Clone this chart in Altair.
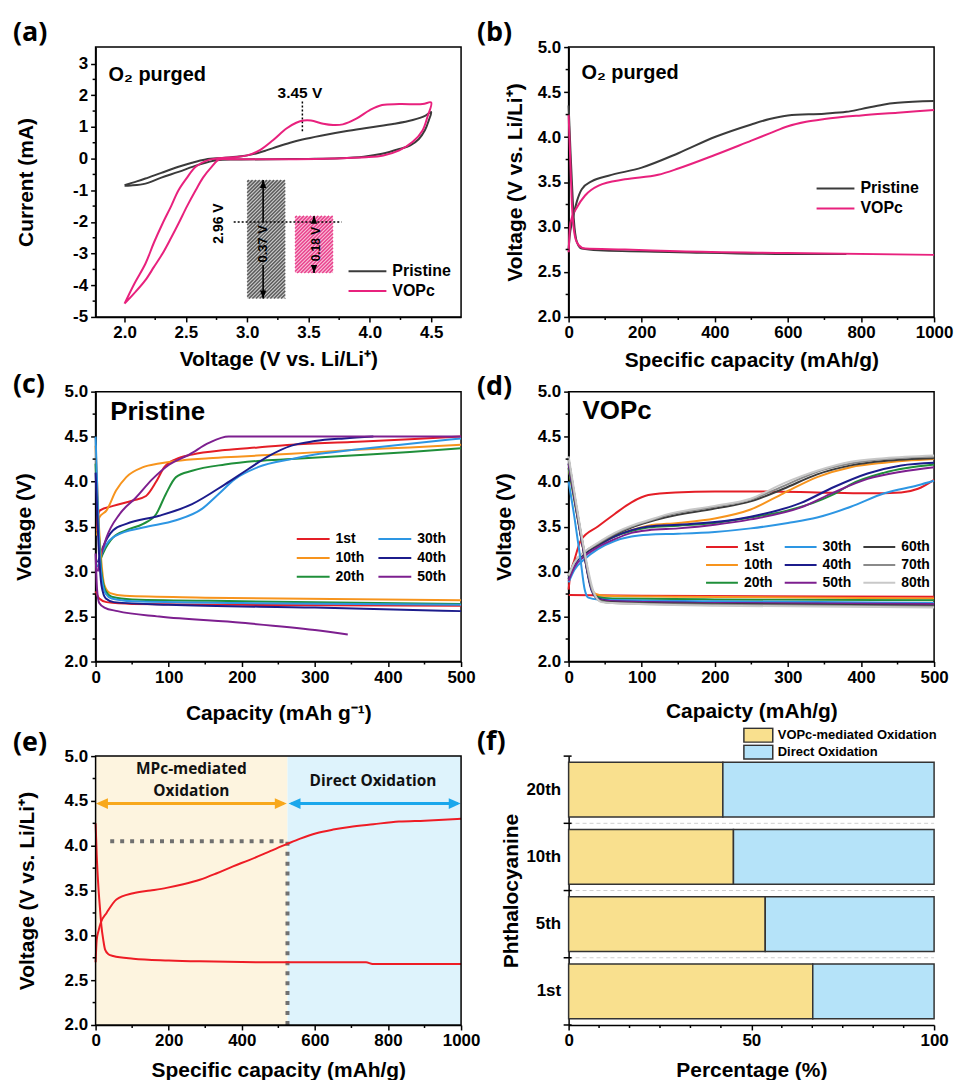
import altair as alt
import pandas as pd

FONT = "Liberation Sans"
PFONT = "Open Sans"

W, H = 367, 271
TOP3 = 20
H3 = 270 + TOP3

GRAY = "#3b3b3b"
PINK = "#e8217d"

# ---------------- (a) cyclic voltammetry (voltage V, current mA) in scan order ----------------
cv_pristine = [(2.00, -0.84), (2.10, -0.72), (2.17, -0.63), (2.30, -0.45), (2.44, -0.26), (2.55, -0.13),
               (2.66, -0.03), (2.80, 0.02), (2.95, 0.07), (3.05, 0.14), (3.15, 0.25), (3.25, 0.38),
               (3.35, 0.50), (3.45, 0.60), (3.60, 0.72), (3.80, 0.86), (4.00, 0.98), (4.20, 1.10),
               (4.35, 1.22), (4.45, 1.35), (4.50, 1.47), (4.48, 1.20), (4.45, 0.90), (4.40, 0.62),
               (4.33, 0.42), (4.24, 0.30), (4.10, 0.15), (3.95, 0.06), (3.75, 0.01), (3.50, -0.01),
               (3.20, -0.02), (2.95, -0.03), (2.75, -0.05), (2.60, -0.20), (2.44, -0.42), (2.30, -0.60),
               (2.17, -0.79), (2.05, -0.85), (2.00, -0.86)]
cv_vopc = [(2.00, -4.58), (2.08, -3.95), (2.17, -3.32), (2.24, -2.65), (2.31, -2.05), (2.38, -1.50),
           (2.44, -1.00), (2.51, -0.60), (2.58, -0.26), (2.68, -0.05), (2.79, 0.02), (2.92, 0.05),
           (3.00, 0.10), (3.10, 0.26), (3.21, 0.58), (3.32, 0.95), (3.40, 1.13), (3.46, 1.20),
           (3.52, 1.20), (3.62, 1.10), (3.70, 1.06), (3.78, 1.08), (3.89, 1.26), (4.00, 1.53),
           (4.10, 1.69), (4.24, 1.72), (4.43, 1.72), (4.50, 1.77), (4.47, 1.32), (4.43, 0.89),
           (4.35, 0.53), (4.24, 0.26), (4.11, 0.10), (3.97, 0.04), (3.70, 0.00), (3.40, -0.02),
           (3.10, -0.02), (2.85, -0.02), (2.77, -0.03), (2.71, -0.26), (2.64, -0.60), (2.58, -1.00),
           (2.51, -1.50), (2.44, -2.05), (2.38, -2.50), (2.31, -3.00), (2.24, -3.42), (2.17, -3.84),
           (2.08, -4.25), (2.00, -4.58)]
a_series = ["Pristine", "VOPc"]
a_dom_x = [1.764, 4.744]
a_dom_y = [-5, 3.52]
a_ticks_x = [2.0, 2.5, 3.0, 3.5, 4.0, 4.5]
a_ticks_y = [-5, -4, -3, -2, -1, 0, 1, 2, 3]
a_minor_x = [2.25, 2.75, 3.25, 3.75, 4.25]
a_minor_y = [-4.5, -3.5, -2.5, -1.5, -0.5, 0.5, 1.5, 2.5]
a_boxes = [(3.00, 3.31, -4.42, -0.68), (3.39, 3.70, -3.61, -1.81)]      # x0, x1, y0, y1
a_arrows = [(3.13, -0.68, -2.02, -3.36, -4.42), (3.545, -1.81, -2.03, -3.38, -3.61)]  # x, top, gap, gap, bottom
a_peak = (3.45, 0.86, 1.85)           # x, y0, y1 (dotted)
a_onset = (2.89, 3.77, -2.0)           # x0, x1, y (dotted)

# ---------------- (b) first cycle, O2 purged ----------------
b_pristine_ch = [(0, 2.75), (3, 2.9), (9, 3.05), (23, 3.29), (36, 3.42), (64, 3.51), (109, 3.57), (200, 3.66),
                 (300, 3.82), (400, 4.0), (500, 4.14), (550, 4.2), (600, 4.24), (700, 4.26), (760, 4.28),
                 (800, 4.31), (860, 4.36), (900, 4.38), (1000, 4.40)]
b_pristine_dis = [(0, 4.35), (5, 3.85), (9, 3.5), (14, 3.1), (23, 2.83), (36, 2.76), (82, 2.74), (300, 2.72),
                  (600, 2.70), (760, 2.70)]
b_vopc_ch = [(0, 2.72), (2, 2.9), (5, 3.05), (23, 3.22), (45, 3.35), (82, 3.46), (154, 3.53), (245, 3.58),
             (300, 3.65), (400, 3.8), (500, 3.96), (550, 4.04), (600, 4.12), (650, 4.17), (700, 4.2),
             (800, 4.24), (900, 4.27), (1000, 4.30)]
b_vopc_dis = [(0, 4.25), (4, 3.8), (9, 3.25), (18, 2.88), (27, 2.8), (45, 2.76), (154, 2.75), (300, 2.73),
              (600, 2.71), (1000, 2.69)]

# ---------------- (c) Pristine cycling ----------------
c_names = ["1st", "10th", "20th", "30th", "40th", "50th"]
c_colors = ["#e41e26", "#f7941d", "#1f8f3a", "#2d96e3", "#1c1c8c", "#7d1f8f"]
c_charge = [
    [(2, 3.45), (3, 3.62), (6, 3.68), (24, 3.73), (51, 3.79), (69, 3.84), (83, 4.0), (94, 4.16), (110, 4.25),
     (132, 4.3), (177, 4.35), (222, 4.38), (268, 4.41), (350, 4.44), (430, 4.47), (500, 4.5)],
    [(2, 3.4), (5, 3.6), (15, 3.68), (28, 3.9), (42, 4.05), (65, 4.16), (87, 4.2), (110, 4.23), (155, 4.26),
     (200, 4.28), (268, 4.31), (350, 4.35), (430, 4.38), (500, 4.41)],
    [(3, 3.05), (10, 3.2), (24, 3.38), (42, 3.46), (65, 3.53), (83, 3.64), (96, 3.86), (110, 4.05), (132, 4.12),
     (177, 4.19), (222, 4.23), (268, 4.25), (350, 4.29), (430, 4.33), (500, 4.37)],
    [(3, 3.05), (10, 3.23), (28, 3.40), (65, 3.49), (110, 3.57), (146, 3.70), (168, 3.86), (191, 4.03),
     (222, 4.16), (268, 4.25), (300, 4.3), (350, 4.35), (430, 4.42), (500, 4.48)],
    [(3, 3.1), (10, 3.27), (24, 3.46), (42, 3.53), (87, 3.62), (132, 3.75), (177, 3.97), (209, 4.14),
     (236, 4.28), (268, 4.40), (300, 4.45), (340, 4.48), (380, 4.5)],
    [(3, 3.0), (6, 3.13), (15, 3.38), (33, 3.64), (55, 3.82), (78, 4.03), (101, 4.19), (128, 4.30),
     (155, 4.43), (182, 4.5), (500, 4.5)],
]
c_discharge = [
    [(0, 2.78), (5, 2.7), (15, 2.66), (50, 2.64), (200, 2.63), (500, 2.62)],
    [(0, 4.4), (4, 3.6), (8, 3.1), (12, 2.85), (20, 2.76), (40, 2.73), (150, 2.71), (500, 2.68)],
    [(0, 4.2), (4, 3.5), (8, 3.0), (14, 2.78), (22, 2.72), (50, 2.69), (200, 2.67), (500, 2.64)],
    [(0, 4.5), (4, 3.5), (8, 2.95), (14, 2.75), (22, 2.7), (50, 2.67), (200, 2.65), (500, 2.63)],
    [(0, 4.1), (4, 3.3), (8, 2.85), (14, 2.7), (25, 2.66), (100, 2.63), (300, 2.6), (500, 2.56)],
    [(0, 3.2), (2, 2.8), (5, 2.65), (12, 2.6), (30, 2.56), (87, 2.5), (200, 2.43), (300, 2.35), (345, 2.3)],
]

# ---------------- (d) VOPc cycling ----------------
d_names = ["1st", "10th", "20th", "30th", "40th", "50th", "60th", "70th", "80th"]
d_colors = ["#e41e26", "#f7941d", "#1f8f3a", "#2d96e3", "#1c1c8c", "#7d1f8f", "#3c3c3c", "#8a8a8a", "#c8c8c8"]
d_charge = [
    [(0, 2.8), (2, 2.95), (8, 3.13), (17, 3.35), (40, 3.5), (63, 3.64), (86, 3.77), (109, 3.85), (146, 3.88),
     (200, 3.89), (269, 3.89), (340, 3.88), (408, 3.87), (455, 3.88), (478, 3.92), (500, 4.02)],
    [(0, 2.92), (8, 3.08), (22, 3.2), (40, 3.29), (63, 3.39), (86, 3.46), (109, 3.51), (150, 3.54), (200, 3.59),
     (249, 3.69), (294, 3.87), (340, 4.05), (386, 4.16), (432, 4.21), (500, 4.25)],
    [(0, 2.92), (8, 3.08), (22, 3.2), (40, 3.29), (63, 3.39), (86, 3.45), (109, 3.49), (150, 3.51), (200, 3.54),
     (249, 3.6), (300, 3.68), (340, 3.78), (363, 3.86), (386, 3.97), (432, 4.1), (500, 4.19)],
    [(0, 2.88), (8, 3.02), (22, 3.14), (40, 3.25), (63, 3.34), (86, 3.39), (109, 3.41), (150, 3.42), (200, 3.44),
     (249, 3.48), (300, 3.54), (340, 3.6), (386, 3.72), (432, 3.87), (478, 3.96), (500, 4.01)],
    [(0, 2.92), (8, 3.08), (22, 3.2), (40, 3.29), (63, 3.39), (86, 3.46), (109, 3.5), (150, 3.52), (200, 3.55),
     (249, 3.61), (317, 3.76), (363, 3.94), (409, 4.09), (455, 4.18), (500, 4.21)],
    [(0, 2.9), (8, 3.05), (22, 3.17), (40, 3.27), (63, 3.36), (86, 3.43), (109, 3.46), (150, 3.48), (200, 3.52),
     (249, 3.58), (317, 3.71), (363, 3.88), (409, 4.03), (455, 4.11), (500, 4.16)],
    [(0, 2.95), (8, 3.1), (22, 3.21), (40, 3.3), (63, 3.41), (86, 3.49), (109, 3.55), (132, 3.6), (200, 3.7),
     (249, 3.78), (294, 3.92), (340, 4.08), (386, 4.18), (432, 4.23), (500, 4.26)],
    [(0, 2.95), (8, 3.1), (22, 3.22), (40, 3.31), (63, 3.42), (86, 3.5), (109, 3.56), (132, 3.62), (200, 3.72),
     (249, 3.8), (294, 3.95), (340, 4.11), (386, 4.2), (432, 4.25), (500, 4.28)],
    [(0, 2.96), (8, 3.1), (22, 3.22), (40, 3.32), (63, 3.43), (86, 3.51), (109, 3.57), (132, 3.63), (200, 3.73),
     (249, 3.81), (294, 3.98), (340, 4.12), (386, 4.22), (432, 4.26), (500, 4.29)],
]
d_discharge = [
    [(0, 2.74), (100, 2.73), (500, 2.72)],
    [(0, 4.15), (10, 3.7), (20, 3.25), (30, 2.85), (37, 2.75), (50, 2.73), (150, 2.72), (500, 2.7)],
    [(0, 4.15), (10, 3.7), (20, 3.25), (30, 2.85), (38, 2.72), (60, 2.7), (200, 2.69), (500, 2.68)],
    [(0, 4.0), (8, 3.6), (16, 3.15), (22, 2.8), (27, 2.71), (40, 2.69), (200, 2.67), (500, 2.65)],
    [(0, 4.2), (10, 3.72), (20, 3.25), (31, 2.8), (40, 2.7), (60, 2.67), (200, 2.65), (500, 2.63)],
    [(0, 4.2), (10, 3.72), (20, 3.25), (32, 2.8), (42, 2.69), (60, 2.67), (200, 2.65), (500, 2.64)],
    [(0, 4.25), (10, 3.75), (20, 3.28), (32, 2.8), (43, 2.68), (60, 2.66), (200, 2.64), (500, 2.62)],
    [(0, 4.25), (10, 3.75), (20, 3.28), (33, 2.78), (44, 2.67), (60, 2.65), (200, 2.63), (500, 2.61)],
    [(0, 4.28), (10, 3.78), (20, 3.3), (34, 2.78), (45, 2.66), (60, 2.65), (200, 2.62), (500, 2.6)],
]

# ---------------- (e) regions of the VOPc charge curve ----------------
e_charge = [(0, 2.7), (3, 2.95), (8, 3.05), (15, 3.15), (30, 3.25), (57, 3.4), (103, 3.47), (150, 3.5),
            (194, 3.53), (240, 3.57), (285, 3.62), (330, 3.69), (376, 3.77), (420, 3.84), (467, 3.92),
            (524, 4.02), (560, 4.08), (604, 4.14), (650, 4.18), (695, 4.21), (760, 4.24), (830, 4.27),
            (900, 4.28), (1000, 4.30)]
e_discharge = [(0, 4.25), (3, 3.9), (7, 3.58), (12, 3.3), (16, 3.1), (21, 2.95), (26, 2.84), (35, 2.79),
               (48, 2.77), (103, 2.74), (200, 2.72), (285, 2.71), (500, 2.7), (740, 2.7), (758, 2.68),
               (1000, 2.68)]
e_regions = [(0, 525), (525, 1000)]
e_arrow_spans = [(1, 523), (528, 999)]
e_arrow_v = 4.47
e_cut_v = 4.05
e_dot_start = 40
e_texts = [("MPc-mediated", 262, 4.86), ("Oxidation", 262, 4.61), ("Direct Oxidation", 759, 4.72)]

# ---------------- (f) share of charge capacity ----------------
f_cycles = ["20th", "10th", "5th", "1st"]
f_mediated = [42.2, 45.1, 53.8, 66.8]
f_parts = ["VOPc-mediated Oxidation", "Direct Oxidation"]
f_colors = ["#f9e08e", "#b5e3f9"]


# ---------------- helpers ----------------
def curves_df(names, *seg_lists):
    rows = []
    for si, segs in enumerate(seg_lists):
        for name, pts in zip(names, segs):
            for i, (x, y) in enumerate(pts):
                rows.append({"series": name, "seg": f"{name}/{si}", "idx": i, "x": x, "y": y})
    return pd.DataFrame(rows)


def qaxis_x(domain, values, title, fmt, tpad):
    return alt.X("x:Q", scale=alt.Scale(domain=domain, nice=False, zero=False),
                 axis=alt.Axis(title=title, values=values, format=fmt, titlePadding=tpad))


def qaxis_y(domain, values, title, tpad, fmt=None, expr=None, rng=None):
    sc = alt.Scale(domain=domain, nice=False, zero=False) if rng is None else \
        alt.Scale(domain=domain, nice=False, zero=False, range=rng)
    kw = {"title": title, "values": values, "titlePadding": tpad}
    if fmt:
        kw["format"] = fmt
    if expr:
        kw["labelExpr"] = expr
    return alt.Y("y:Q", scale=sc, axis=alt.Axis(**kw))


def minor_ticks(X, Y, mx, my, h):
    out = []
    if mx:
        out.append(alt.Chart(pd.DataFrame({"x": mx})).mark_rule(color="black", strokeWidth=1.5)
                   .encode(x=X, y=alt.value(h), y2=alt.value(h + 3)))
    if my:
        out.append(alt.Chart(pd.DataFrame({"y": my})).mark_rule(color="black", strokeWidth=1.5)
                   .encode(y=Y, x=alt.value(0), x2=alt.value(-3)))
    return out


def panel_label(txt, dx, dy):
    return alt.Chart(pd.DataFrame({"t": [txt]})).mark_text(
        font=PFONT, fontSize=27, fontWeight="bold", align="left", baseline="middle", color="black"
    ).encode(x=alt.value(dx), y=alt.value(dy), text="t:N")


def text_layer(rows, X, Y, **kw):
    df = pd.DataFrame(rows, columns=["t", "x", "y"])
    style = {"color": "black", "fontWeight": "bold", "font": FONT}
    style.update(kw)
    return alt.Chart(df).mark_text(**style).encode(x=X, y=Y, text="t:N")


def line_legend(x, y, sym, fs, clip, rowpad, cols=1, colpad=10):
    return alt.Legend(orient="none", legendX=x, legendY=y, title=None, columns=cols,
                      symbolType="stroke", symbolSize=sym * sym, symbolStrokeWidth=2,
                      labelFont=FONT, labelFontSize=fs, labelFontWeight="bold", labelColor="black",
                      labelOffset=5, clipHeight=clip, rowPadding=rowpad, columnPadding=colpad, padding=0)


def hatch_lines(box, dom_x, dom_y, w, h, step):
    x0, x1, y0, y1 = box
    sx = w / (dom_x[1] - dom_x[0])
    sy = h / (dom_y[1] - dom_y[0])
    pw, ph = (x1 - x0) * sx, (y1 - y0) * sy
    rows = []
    c = -ph + step / 2
    while c < pw:
        a0, a1 = max(0.0, c), min(pw, ph + c)
        rows.append({"x": x0 + a0 / sx, "y": y0 + (a0 - c) / sy, "x2": x0 + a1 / sx, "y2": y0 + (a1 - c) / sy})
        c += step
    return pd.DataFrame(rows)


# ---------------- panel (a) ----------------
XA = qaxis_x(a_dom_x, a_ticks_x, "Voltage (V vs. Li/Li⁺)", ".1f", 8)
YA = qaxis_y(a_dom_y, a_ticks_y, "Current (mA)", 36, expr="'' + datum.value")

a_curves = curves_df(a_series, [cv_pristine, cv_vopc])
box_df = pd.DataFrame([dict(x=b[0], x2=b[1], y=b[2], y2=b[3]) for b in a_boxes])
a_layers = [
    alt.Chart(box_df.iloc[[0]]).mark_rect(fill="#cfcfcf").encode(x=XA, x2="x2:Q", y=YA, y2="y2:Q"),
    alt.Chart(box_df.iloc[[1]]).mark_rect(fill="#f9c6dc").encode(x=XA, x2="x2:Q", y=YA, y2="y2:Q"),
    alt.Chart(hatch_lines(a_boxes[0], a_dom_x, a_dom_y, W, H, 3.6)).mark_rule(color="#5c5c5c", strokeWidth=1.5)
    .encode(x=XA, y=YA, x2="x2:Q", y2="y2:Q"),
    alt.Chart(hatch_lines(a_boxes[1], a_dom_x, a_dom_y, W, H, 3.6)).mark_rule(color="#e9438e", strokeWidth=1.5)
    .encode(x=XA, y=YA, x2="x2:Q", y2="y2:Q"),
]
seg_rows = []
for (ax, top, g1, g2, bot) in a_arrows:
    seg_rows += [dict(x=ax, y=top, y2=g1), dict(x=ax, y=g2, y2=bot)]
a_layers.append(alt.Chart(pd.DataFrame(seg_rows)).mark_rule(color="black", strokeWidth=1.6)
                .encode(x=XA, y=YA, y2="y2:Q"))
a_layers.append(alt.Chart(pd.DataFrame([dict(x=a[0], y=a[1]) for a in a_arrows]))
                .mark_point(shape="M0,0L-0.8,2L0.8,2Z", size=64, filled=True, color="black", opacity=1)
                .encode(x=XA, y=YA))
a_layers.append(alt.Chart(pd.DataFrame([dict(x=a[0], y=a[4]) for a in a_arrows]))
                .mark_point(shape="M0,0L-0.8,-2L0.8,-2Z", size=64, filled=True, color="black", opacity=1)
                .encode(x=XA, y=YA))
a_layers.append(alt.Chart(pd.DataFrame([dict(x=a_peak[0], y=a_peak[1], y2=a_peak[2])]))
                .mark_rule(color="black", strokeWidth=1.5, strokeDash=[2, 2]).encode(x=XA, y=YA, y2="y2:Q"))
a_layers.append(alt.Chart(pd.DataFrame([dict(x=a_onset[0], x2=a_onset[1], y=a_onset[2])]))
                .mark_rule(color="black", strokeWidth=1.5, strokeDash=[2, 2]).encode(x=XA, x2="x2:Q", y=YA))
a_layers.append(alt.Chart(a_curves).mark_line(strokeWidth=2, interpolate="catmull-rom").encode(
    x=XA, y=YA, detail="seg:N", order="idx:Q",
    color=alt.Color("series:N", scale=alt.Scale(domain=a_series, range=[GRAY, PINK]),
                    legend=line_legend(253, 216, 38, 16, 18, 2))))
a_layers += [
    text_layer([("O₂ purged", 1.87, 2.64)], XA, YA, fontSize=20, align="left", baseline="middle"),
    text_layer([("3.45 V", 3.43, 2.08)], XA, YA, fontSize=15.5, align="center", baseline="middle"),
    text_layer([("2.96 V", 2.77, -2.05)], XA, YA, fontSize=14, angle=270, align="center", baseline="middle"),
    text_layer([("0.37 V", 3.13, -2.69)], XA, YA, fontSize=13, angle=270, align="center", baseline="middle"),
    text_layer([("0.18 V", 3.56, -2.70)], XA, YA, fontSize=12, angle=270, align="center", baseline="middle"),
]
a_layers += minor_ticks(XA, YA, a_minor_x, a_minor_y, H)
a_layers.append(panel_label("(a)", -83, -14))
pa = alt.layer(*a_layers).properties(width=W, height=H)

# ---------------- panel (b) ----------------
cap_ticks_1000 = [0, 200, 400, 600, 800, 1000]
cap_minor_1000 = [100, 300, 500, 700, 900]
v_ticks = [2.0, 2.5, 3.0, 3.5, 4.0, 4.5, 5.0]
v_minor = [2.25, 2.75, 3.25, 3.75, 4.25, 4.75]

XB = qaxis_x([0, 1000], cap_ticks_1000, "Specific capacity (mAh/g)", "d", 9)
YB = qaxis_y([2, 5], v_ticks, "Voltage (V vs. Li/Li⁺)", 12, fmt=".1f")
b_curves = curves_df(a_series, [b_pristine_ch, b_vopc_ch], [b_pristine_dis, b_vopc_dis])
b_layers = [
    alt.Chart(b_curves).mark_line(strokeWidth=2, interpolate="monotone").encode(
        x=XB, y=YB, detail="seg:N", order="idx:Q",
        color=alt.Color("series:N", scale=alt.Scale(domain=a_series, range=[GRAY, PINK]),
                        legend=line_legend(248, 133, 38, 16, 18, 2))),
    text_layer([("O₂ purged", 35, 4.71)], XB, YB, fontSize=20, align="left", baseline="middle"),
]
b_layers += minor_ticks(XB, YB, cap_minor_1000, v_minor, H)
b_layers.append(panel_label("(b)", -92, -14))
pb = alt.layer(*b_layers).properties(width=W, height=H)

# ---------------- panel (c) ----------------
cap_ticks_500 = [0, 100, 200, 300, 400, 500]
cap_minor_500 = [50, 150, 250, 350, 450]
XC = qaxis_x([0, 500], cap_ticks_500, "Capacity (mAh g⁻¹)", "d", 17)
YC = qaxis_y([2, 5], v_ticks, "Voltage (V)", 30, fmt=".1f")
c_layers = [
    alt.Chart(curves_df(c_names, c_charge, c_discharge)).mark_line(strokeWidth=2, interpolate="monotone").encode(
        x=XC, y=YC, detail="seg:N", order="idx:Q",
        color=alt.Color("series:N", scale=alt.Scale(domain=c_names, range=c_colors),
                        legend=line_legend(201, 139.5, 33, 14, 17, 2, cols=2, colpad=13))),
    text_layer([("Pristine", 20, 4.77)], XC, YC, fontSize=26, align="left", baseline="middle"),
]
c_layers += minor_ticks(XC, YC, cap_minor_500, v_minor, H)
c_layers.append(panel_label("(c)", -83, -7))
pc = alt.layer(*c_layers).properties(width=W, height=H)

# ---------------- panel (d) ----------------
XD = qaxis_x([0, 500], cap_ticks_500, "Capaicty (mAh/g)", "d", 15)
YD = qaxis_y([2, 5], v_ticks, "Voltage (V)", 23, fmt=".1f")
d_layers = [
    alt.Chart(curves_df(d_names, d_charge, d_discharge)).mark_line(strokeWidth=2, interpolate="monotone").encode(
        x=XD, y=YD, detail="seg:N", order="idx:Q",
        color=alt.Color("series:N", scale=alt.Scale(domain=d_names, range=d_colors),
                        legend=line_legend(137, 147.5, 32, 14, 17, 1, cols=3, colpad=11))),
    text_layer([("VOPc", 19, 4.78)], XD, YD, fontSize=26, align="left", baseline="middle"),
]
d_layers += minor_ticks(XD, YD, cap_minor_500, v_minor, H)
d_layers.append(panel_label("(d)", -92, -5))
pdd = alt.layer(*d_layers).properties(width=W, height=H)

# ---------------- panel (e) ----------------
XE = qaxis_x([0, 1000], cap_ticks_1000, "Specific capacity (mAh/g)", "d", 11)
YE = qaxis_y([2, 5], v_ticks, "Voltage (V vs. Li/Li⁺)", 27, fmt=".1f", rng=[H3, TOP3])
e_bg_colors = ["#fdf4df", "#def3fc"]
e_arrow_colors = ["#f8a81c", "#1aa7ec"]
e_layers = []
for (r0, r1), col in zip(e_regions, e_bg_colors):
    e_layers.append(alt.Chart(pd.DataFrame([dict(x=r0, x2=r1, y=2.0, y2=5.0)])).mark_rect(fill=col)
                    .encode(x=XE, x2="x2:Q", y=YE, y2="y2:Q"))
split = e_regions[0][1]
e_layers.append(alt.Chart(pd.DataFrame([dict(x=e_dot_start, x2=split, y=e_cut_v)]))
                .mark_rule(color="#707070", strokeWidth=4, strokeDash=[4, 6]).encode(x=XE, x2="x2:Q", y=YE))
e_layers.append(alt.Chart(pd.DataFrame([dict(x=split, y=2.0, y2=e_cut_v)]))
                .mark_rule(color="#707070", strokeWidth=4, strokeDash=[4, 6]).encode(x=XE, y=YE, y2="y2:Q"))
for (s0, s1), col in zip(e_arrow_spans, e_arrow_colors):
    e_layers.append(alt.Chart(pd.DataFrame([dict(x=s0 + 8, x2=s1 - 8, y=e_arrow_v)]))
                    .mark_rule(color=col, strokeWidth=3).encode(x=XE, x2="x2:Q", y=YE))
    e_layers.append(alt.Chart(pd.DataFrame([dict(x=s0, y=e_arrow_v)]))
                    .mark_point(shape="M0,0L2,-0.9L2,0.9Z", size=144, filled=True, color=col, opacity=1)
                    .encode(x=XE, y=YE))
    e_layers.append(alt.Chart(pd.DataFrame([dict(x=s1, y=e_arrow_v)]))
                    .mark_point(shape="M0,0L-2,-0.9L-2,0.9Z", size=144, filled=True, color=col, opacity=1)
                    .encode(x=XE, y=YE))
e_layers.append(alt.Chart(curves_df(["VOPc"], [e_charge], [e_discharge]))
                .mark_line(strokeWidth=2, interpolate="monotone", color="#ee1c25")
                .encode(x=XE, y=YE, detail="seg:N", order="idx:Q"))
e_layers.append(text_layer(e_texts, XE, YE, font=PFONT, fontSize=15.5, align="center", baseline="middle",
                           color="#111111"))
e_layers.append(alt.Chart(pd.DataFrame({"k": [0]})).mark_rect(fillOpacity=0, stroke="black", strokeWidth=1.5)
                .encode(x=alt.value(0), x2=alt.value(W), y=alt.value(TOP3), y2=alt.value(H3)))
e_layers += minor_ticks(XE, YE, cap_minor_1000, v_minor, H3)
e_layers.append(panel_label("(e)", -83, TOP3 - 13))
pe = alt.layer(*e_layers).properties(width=W, height=H3, view=alt.ViewBackground(stroke="transparent"))

# ---------------- panel (f) ----------------
f_rows = []
for cyc, m in zip(f_cycles, f_mediated):
    f_rows.append(dict(cyc=cyc, part=f_parts[0], x=m, ord=0))
    f_rows.append(dict(cyc=cyc, part=f_parts[1], x=round(100 - m, 1), ord=1))
XF = alt.X("x:Q", scale=alt.Scale(domain=[0, 100], nice=False),
           axis=alt.Axis(values=[0, 50, 100], format="d", title="Percentage (%)", titlePadding=11))
YF = alt.Y("cyc:N", scale=alt.Scale(domain=f_cycles, range=[TOP3, H3], paddingInner=0.185, paddingOuter=0.0925),
           axis=alt.Axis(title="Phthalocyanine", ticks=False, labelPadding=8, titlePadding=4))
step = (H3 - TOP3) / len(f_cycles)
f_bounds = [TOP3 + k * step for k in range(len(f_cycles) + 1)]
f_layers = [
    alt.Chart(pd.DataFrame({"py": f_bounds[1:-1]})).mark_rule(color="#cfcfcf", strokeWidth=1, strokeDash=[4, 3])
    .encode(y=alt.Y("py:Q", scale=None), x=alt.value(0), x2=alt.value(W)),
    alt.Chart(pd.DataFrame(f_rows)).mark_bar(stroke="#333333", strokeWidth=1.5).encode(
        x=XF, y=YF, order=alt.Order("ord:Q", sort="ascending"),
        color=alt.Color("part:N", scale=alt.Scale(domain=f_parts, range=f_colors),
                        legend=alt.Legend(orient="none", legendX=175, legendY=-9, title=None,
                                          symbolType="M-1,-0.48H1V0.48H-1Z", symbolSize=841,
                                          symbolStrokeColor="#333333", symbolStrokeWidth=1.5,
                                          labelFont=FONT, labelFontSize=13, labelFontWeight="bold",
                                          labelColor="black", labelOffset=4, clipHeight=16, rowPadding=1,
                                          padding=0))),
    alt.Chart(pd.DataFrame({"py": f_bounds})).mark_rule(color="black", strokeWidth=1.5)
    .encode(y=alt.Y("py:Q", scale=None), x=alt.value(-5), x2=alt.value(3)),
]
f_minor = [round(k * 50 / 6, 3) for k in range(1, 12) if k % 6]
f_layers.append(alt.Chart(pd.DataFrame({"x": f_minor})).mark_rule(color="black", strokeWidth=1.5)
                .encode(x=XF, y=alt.value(H3), y2=alt.value(H3 + 3)))
f_layers.append(panel_label("(f)", -92, TOP3 - 14))
pf = alt.layer(*f_layers).properties(width=W, height=H3, view=alt.ViewBackground(stroke="transparent"))

chart = alt.concat(pa, pb, pc, pdd, pe, pf, columns=2, spacing={"row": 75, "column": 108}, bounds="flush") \
    .resolve_scale(color="independent") \
    .properties(padding={"left": 12, "top": 16, "right": 2, "bottom": 2}) \
    .configure(font=FONT) \
    .configure_view(stroke="black", strokeWidth=1.5) \
    .configure_axis(labelFont=FONT, labelFontSize=17, labelFontWeight="bold", labelColor="black",
                    titleFont=FONT, titleFontSize=21, titleFontWeight="bold", titleColor="black",
                    domainColor="black", domainWidth=1.5, tickColor="black", tickWidth=1.5, tickSize=5,
                    grid=False, labelFlush=False, labelOverlap=False, labelPadding=3)

chart.save("out.html", embed_options={"renderer": "svg", "actions": False})
